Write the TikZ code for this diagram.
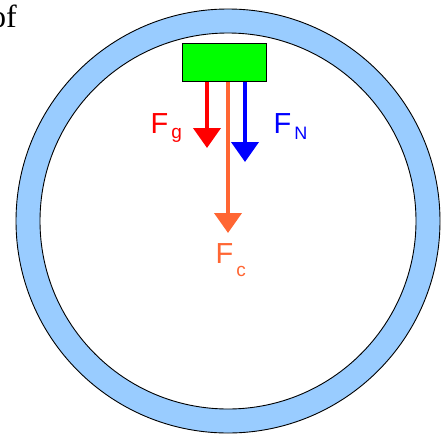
\documentclass[tikz,border=0pt]{standalone}
\usepackage{fontspec}
\setmainfont{Liberation Serif}
\newfontfamily\labfont{Liberation Sans}
\usetikzlibrary{arrows.meta}
\definecolor{ringblue}{HTML}{99CCFF}
\definecolor{blockgreen}{HTML}{00FF00}
\definecolor{forceorange}{HTML}{FF6633}
\begin{document}
\begin{tikzpicture}[x=1pt,y=-1pt,
  force/.style={line width=4pt,-{Triangle[width=27pt,length=20pt]}},
  lab/.style={inner sep=0pt,anchor=base west,font=\labfont\fontsize{29}{29}\selectfont}]
\useasboundingbox (0,0) rectangle (444,434);
% ring
\fill[ringblue,even odd rule] (228,221) circle[radius=212] (228,221) circle[radius=188];
\draw[black,line width=0.9pt] (228,221) circle[radius=212];
\draw[black,line width=0.9pt] (228,221) circle[radius=188];
% block
\node[draw=black,fill=blockgreen,line width=0.9pt,minimum width=84pt,minimum height=38pt,inner sep=0pt,anchor=north west] (block) at (182,43) {};
% arrow tips
\coordinate (tg) at (207,148);
\coordinate (tn) at (245,162);
\coordinate (tc) at (228,233);
\draw[force,red] (block.south -| tg) -- (tg);
\draw[force,forceorange] (block.south -| tc) -- (tc);
\draw[force,blue] (block.south -| tn) -- (tn);
% labels
\node[lab,text=red] (lg) at (150.5,133) {F\raisebox{-5pt}{\fontsize{19}{19}\selectfont\hspace{3pt}g}};
\node[lab,text=blue] (ln) at (273.5,133) {F\raisebox{-6pt}{\fontsize{18}{18}\selectfont\hspace{3pt}N}};
\node[lab,text=forceorange] (lc) at (215.5,263) {F\raisebox{-13pt}{\fontsize{19}{19}\selectfont\hspace{3pt}c}};
% partial text at left edge
\node[inner sep=0pt,anchor=base west,font=\fontsize{32}{32}\selectfont] (of) at (-10,27) {of};
\end{tikzpicture}
\end{document}
